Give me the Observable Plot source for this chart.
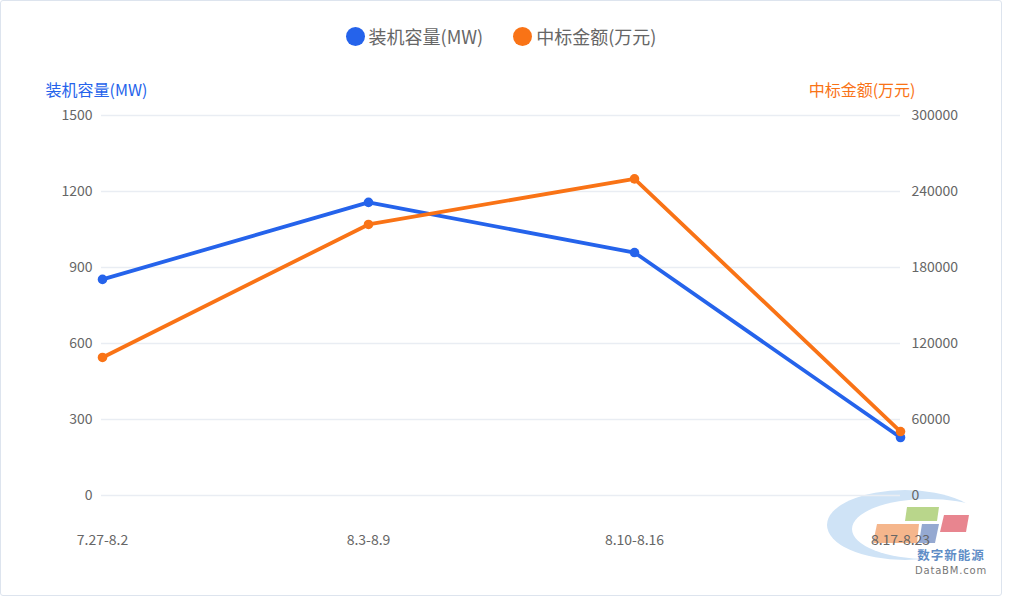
<!DOCTYPE html>
<html><head><meta charset="utf-8">
<script src="https://cdn.jsdelivr.net/npm/d3@7"></script>
<script src="https://cdn.jsdelivr.net/npm/@observablehq/plot@0.6"></script>
<style>
body{margin:0;background:#fff;font-family:"Noto Sans CJK SC","Noto Sans",sans-serif;}
#wrap{position:relative;width:1000px;height:594px;border:1px solid #dde4ee;border-radius:3px;overflow:hidden;}
#wm{position:absolute;left:-1px;top:-1px;z-index:0;}
#legend{position:relative;z-index:1;height:70px;display:flex;justify-content:center;align-items:center;gap:30px;font-size:18px;color:#666;}
#legend .item{display:flex;align-items:center;gap:4px;}
#legend .sw{width:19px;height:19px;border-radius:50%;display:inline-block;}
#chart{position:relative;z-index:1;}
</style></head>
<body>
<div id="wrap">
<svg id="wm" width="1010" height="597">
  <ellipse cx="905" cy="525" rx="78" ry="35" fill="#cfe3f6"/>
  <ellipse cx="928" cy="529" rx="76" ry="30" fill="#fff"/>
  <polygon points="907,507 939,507 937,521 905,521" fill="#b9d68b"/>
  <polygon points="944,515 969,515 966,532 940,532" fill="#e8858f"/>
  <polygon points="877,524 919,524 917,543 873,543" fill="#f5b68c"/>
  <polygon points="922,524 939,524 935,543 919,543" fill="#95a9d1"/>
  <text x="951" y="560" text-anchor="middle" font-size="12.5" font-weight="bold" fill="#5f8dc6" letter-spacing="1">数字新能源</text>
  <text x="951" y="574" text-anchor="middle" font-size="10" fill="#777" letter-spacing="0.8" font-family="DejaVu Sans">DataBM.com</text>
</svg>
<div id="legend"></div>
<div id="chart"></div>
</div>
<script>
const periods = ["7.27-8.2", "8.3-8.9", "8.10-8.16", "8.17-8.23"];
const capacity = [853, 1157, 959, 229];
const amount = [109000, 214000, 250000, 50500];
const leftTicks = [0, 300, 600, 900, 1200, 1500];
const rightMax = 300000;
const leftMax = 1500;
const seriesNames = ["装机容量(MW)", "中标金额(万元)"];
const blue = "#2563eb";
const orange = "#f97316";

const ratio = rightMax / leftMax;
const rows = periods.map((p, i) => ({period: p, capacity: capacity[i], amount: amount[i]}));

const legend = document.getElementById("legend");
[[seriesNames[0], blue], [seriesNames[1], orange]].forEach(([n, c]) => {
  const it = document.createElement("div");
  it.className = "item";
  it.innerHTML = `<span class="sw" style="background:${c}"></span><span>${n}</span>`;
  legend.appendChild(it);
});

const chart = Plot.plot({
  width: 1000,
  height: 525,
  marginTop: 44,
  marginBottom: 101,
  marginLeft: 100,
  marginRight: 101,
  style: {fontFamily: '"Noto Sans CJK SC","Noto Sans",sans-serif', fontSize: "14px", color: "#666", background: "transparent", overflow: "visible"},
  x: {type: "point", domain: periods, padding: 0, label: null},
  y: {domain: [0, leftMax], label: null},
  marks: [
    Plot.ruleY(leftTicks, {stroke: "#e9edf3", strokeWidth: 1.5}),
    Plot.axisY(leftTicks, {anchor: "left", tickSize: 0, tickPadding: 9, label: null, fill: "#666", tickFormat: d => String(d)}),
    Plot.axisY(leftTicks, {anchor: "right", tickSize: 0, tickPadding: 11, label: null, fill: "#666", tickFormat: d => String(d * ratio)}),
    Plot.axisX({tickSize: 0, tickPadding: 40, label: null, fill: "#666"}),
    Plot.line(rows, {x: "period", y: "capacity", stroke: blue, strokeWidth: 3.8}),
    Plot.dot(rows, {x: "period", y: "capacity", fill: blue, r: 4.8}),
    Plot.line(rows, {x: "period", y: d => d.amount / ratio, stroke: orange, strokeWidth: 3.8}),
    Plot.dot(rows, {x: "period", y: d => d.amount / ratio, fill: orange, r: 4.8}),
    Plot.text([seriesNames[0]], {frameAnchor: "top-left", textAnchor: "start", lineAnchor: "middle", dx: -56, dy: -25, fill: blue, fontSize: 16}),
    Plot.text([seriesNames[1]], {frameAnchor: "top-right", textAnchor: "end", lineAnchor: "middle", dx: 15, dy: -25, fill: orange, fontSize: 16})
  ]
});
document.getElementById("chart").appendChild(chart);
</script>
</body></html>
